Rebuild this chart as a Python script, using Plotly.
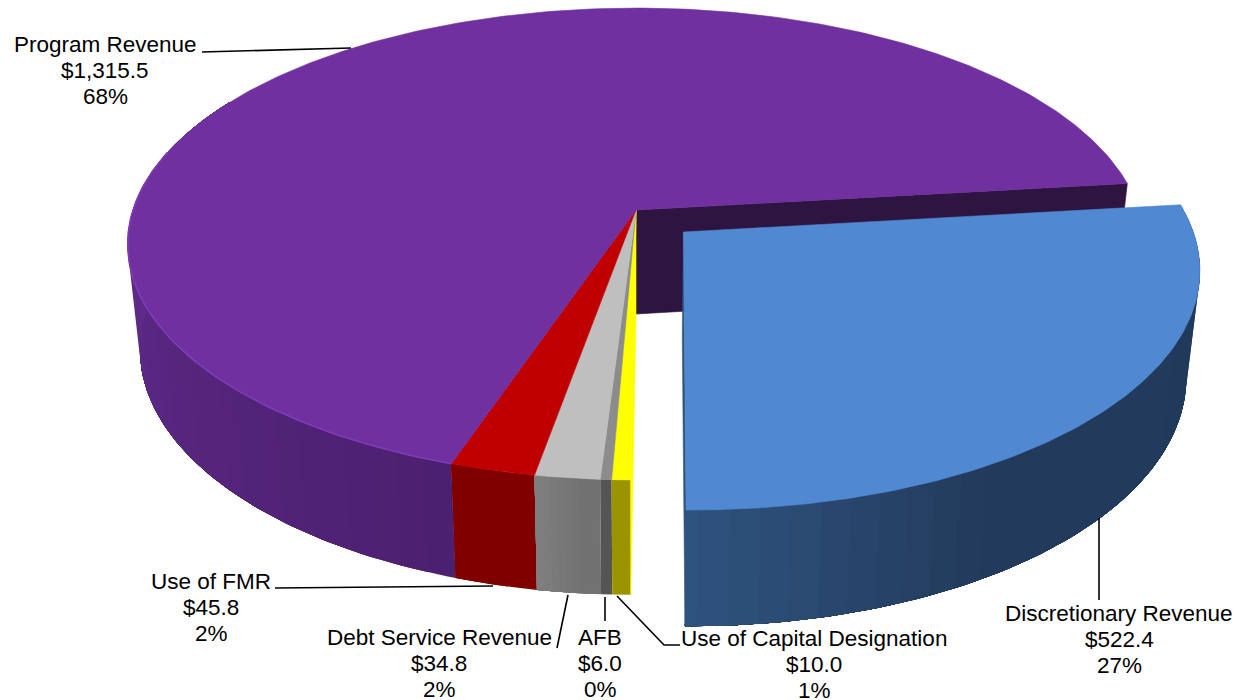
import numpy as np
import plotly.graph_objects as go

# ---- data ----
categories = ["Discretionary Revenue", "Use of Capital Designation", "AFB",
              "Debt Service Revenue", "Use of FMR", "Program Revenue"]
amounts = [522.4, 10.0, 6.0, 34.8, 45.8, 1315.5]
percents = ["27%", "1%", "0%", "2%", "2%", "68%"]

# ---- style ----
top_colors = ["#5089d1", "#ffff00", "#8c8c8c", "#bfbfbf", "#c00000", "#7030a0"]
rim_stops = [
    ([83, 150, 181], ["#21395a", "#233b5c", "#2f5480"]),
    ([0, 360], ["#9a9400", "#9a9400"]),
    ([0, 360], ["#555555", "#555555"]),
    ([185, 192], ["#727272", "#868686"]),
    ([0, 360], ["#800000", "#800000"]),
    ([198, 280], ["#4c2070", "#622d8e"]),
]
rim_step = [3.0, 3.0, 3.0, 0.7, 3.0, 3.0]
label_pos = [(1119, 639), (814, 664), (600, 663), (439, 663), (211, 607), (105, 70)]
LINE_GAP = 26
leaders = [
    ([1099, 1099], [518, 600]),
    ([617, 664, 680], [596, 645, 645]),
    ([605, 605], [597, 621]),
    ([568, 557], [595, 648]),
    ([493, 275], [586, 588]),
    ([351, 202], [48, 52]),
]
START = 83.3
CX, CY, RX, RY, K = 636.0, 210.0, 503.0, 231.0, 0.144
SHRINK, DEPTH = 0.976, 104.0
EXPLODE = [(0.093, 0.094), (0, 0), (0, 0), (0, 0), (0, 0), (0, 0)]


def top(X, Y):
    d = 1 - K * Y
    return CX + RX * X / d, CY + RY * Y / d


def bottom(X, Y):
    d = 1 - K * Y
    return CX + SHRINK * RX * X / d, CY + SHRINK * RY * Y / d + DEPTH / d


def arc(a0, a1, ex, ey, n=None):
    n = n or max(2, int(abs(a1 - a0) / 0.75) + 2)
    t = np.radians(np.linspace(a0, a1, n))
    return np.sin(t) + ex, -np.cos(t) + ey


def mix(angle, stops):
    a, c = stops
    rgb = [[int(h[i:i + 2], 16) for i in (1, 3, 5)] for h in c]
    vals = [np.interp(angle, a, [r[j] for r in rgb]) for j in range(3)]
    return "rgb(%d,%d,%d)" % tuple(vals)


def poly(xs, ys, color, lw=0.6):
    fig.add_trace(go.Scatter(x=list(xs) + [xs[0]], y=list(ys) + [ys[0]], mode="lines",
                             fill="toself", fillcolor=color,
                             line=dict(color=color, width=lw),
                             hoverinfo="skip", showlegend=False))


fig = go.Figure()
total = sum(amounts)
spans = [v / total * 360 for v in amounts]
starts = [START + sum(spans[:i]) for i in range(len(spans))]
ends = [s + w for s, w in zip(starts, spans)]
PROG = len(amounts) - 1
DISC = 0
YEL = 1

# inner wall of the large slice, seen through the gap
x1, y1 = np.sin(np.radians(START)), -np.cos(np.radians(START))
tx, ty = top(np.array([0, x1]), np.array([0, y1]))
bx, by = bottom(np.array([x1, 0]), np.array([y1, 0]))
poly(np.r_[tx, bx], np.r_[ty, by], "#2e1440")

# outer rims, back to front; strips overlap so no seams show
for i in [PROG, 4, 3, 2, 1, 0]:
    ex, ey = EXPLODE[i]
    a0, a1 = starts[i], ends[i]
    if i == PROG:
        a1 = 300.0
    edges = np.arange(a0, a1, rim_step[i]).tolist() + [a1]
    for s, e in zip(edges[:-1], edges[1:]):
        X, Y = arc(s, a1, ex, ey, max(3, int((a1 - s) / 1.0) + 2))
        tx, ty = top(X, Y)
        bx, by = bottom(X[::-1], Y[::-1])
        poly(np.r_[tx, bx], np.r_[ty, by], mix((s + e) / 2, rim_stops[i]), lw=0)

# cut face of the yellow slice and of the pulled-out slice
for i in (YEL, DISC):
    ex, ey = EXPLODE[i]
    a = ends[DISC]
    X, Y = arc(a, a, ex, ey, 2)
    X0, Y0 = np.array([ex]), np.array([ey])
    tx0, ty0 = top(X0, Y0)
    tx1, ty1 = top(X[:1], Y[:1])
    bx1, by1 = bottom(X[:1], Y[:1])
    bx0, by0 = bottom(X0, Y0)
    col = "#ffff00" if i == YEL else "#2f5480"
    poly(np.r_[tx0, tx1, bx1, bx0], np.r_[ty0, ty1, by1, by0], col)

# top faces
for i in range(len(amounts)):
    ex, ey = EXPLODE[i]
    X, Y = arc(starts[i], ends[i], ex, ey)
    X = np.r_[ex, X]
    Y = np.r_[ey, Y]
    tx, ty = top(X, Y)
    poly(tx, ty, top_colors[i])

# soft highlight along the front of the large slice's top edge
X, Y = arc(starts[PROG], 285.0, 0, 0)
hx, hy = top(X, Y)
fig.add_trace(go.Scatter(x=hx, y=hy, mode="lines", line=dict(color="#7e3cb8", width=1.6),
                         hoverinfo="skip", showlegend=False))

# leader lines
for lx, ly in leaders:
    fig.add_trace(go.Scatter(x=lx, y=ly, mode="lines", line=dict(color="#000000", width=1.6),
                             hoverinfo="skip", showlegend=False))

for name, v, p, (lx, ly) in zip(categories, amounts, percents, label_pos):
    for k, line in enumerate([name, f"${v:,.1f}", p]):
        fig.add_annotation(x=lx, y=ly + (k - 1) * LINE_GAP, xref="x", yref="y",
                           showarrow=False, align="center", text=line,
                           font=dict(family="Liberation Sans", size=22.5, color="#000000"))

fig.update_layout(
    width=1236, height=700, margin=dict(l=0, r=0, t=0, b=0),
    paper_bgcolor="white", plot_bgcolor="white", showlegend=False,
    xaxis=dict(range=[0, 1236], visible=False, fixedrange=True),
    yaxis=dict(range=[700, 0], visible=False, fixedrange=True),
)
fig.write_html("out.html", config={"displayModeBar": False},
               post_script="document.body.style.margin='0';document.documentElement.style.overflow='hidden';")
